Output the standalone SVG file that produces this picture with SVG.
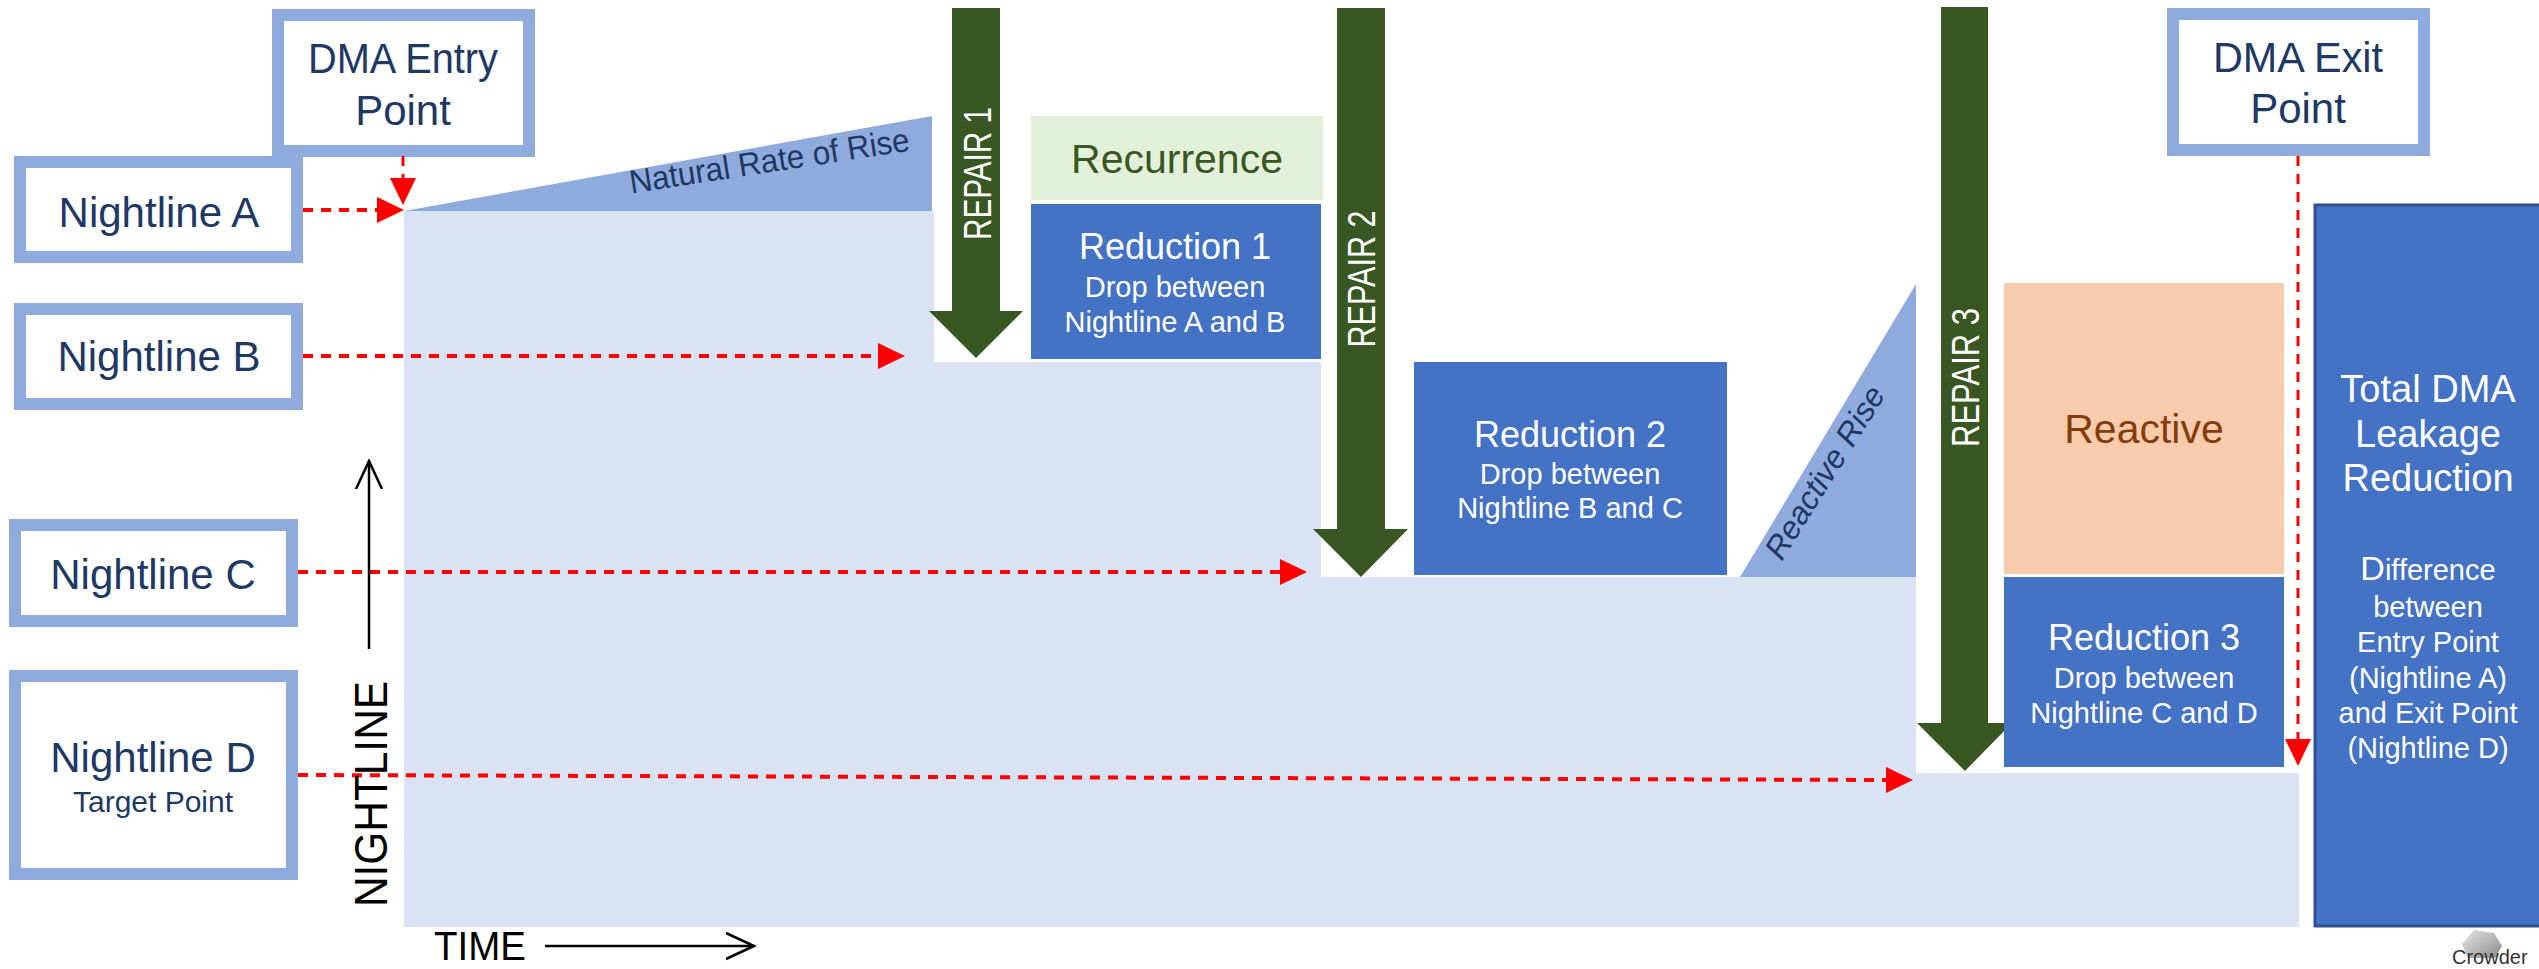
<svg xmlns="http://www.w3.org/2000/svg" width="2539" height="969" viewBox="0 0 2539 969">
<style>
text{font-family:'Liberation Sans',Arial,sans-serif}
.box{fill:#fff;stroke:#8FAADC;stroke-width:12}
.nav{fill:#203864;text-anchor:middle}
.lbl{font-size:42px}
.w{fill:#fff;text-anchor:middle}
.big{font-size:36px}
.sm{font-size:29px}
.rep{fill:#fff;font-size:38px;text-anchor:middle}
.red{stroke:#FF0000;stroke-width:4;stroke-dasharray:10 8;fill:none}
.redv{stroke:#FF0000;stroke-width:3;stroke-dasharray:10 8;fill:none}
.green{fill:#385723}
.blue{fill:#4472C4}
.tri{fill:#8FAADC}
.ax{stroke:#000;stroke-width:2.5;fill:none}
</style>
<defs>
<marker id="rh" viewBox="0 0 27 26" refX="0" refY="13" markerWidth="27" markerHeight="26" markerUnits="userSpaceOnUse" orient="auto"><path d="M0,0 L27,13 L0,26 Z" fill="#FF0000"/></marker>
<marker id="oh" viewBox="0 0 30 30" refX="28" refY="15" markerWidth="30" markerHeight="30" markerUnits="userSpaceOnUse" orient="auto"><path d="M0,2 L28,15 L0,28" fill="none" stroke="#000" stroke-width="2.5"/></marker>
<linearGradient id="lg" x1="0" y1="0" x2="1" y2="1"><stop offset="0" stop-color="#e8e8e8"/><stop offset="1" stop-color="#8a8a8a"/></linearGradient>
</defs>

<g id="area">
<polygon points="404,211 934,211 934,362 1321,362 1321,577 1916,577 1916,773 2299,773 2299,927 404,927" fill="#DAE3F3"/>
</g>

<g id="natural-rise">
<polygon class="tri" points="404,211 932,116 932,211"/>
<text class="nav" font-size="33" transform="translate(771,172) rotate(-8.7)" textLength="283" lengthAdjust="spacingAndGlyphs">Natural Rate of Rise</text>
</g>

<g id="reactive-rise">
<polygon class="tri" points="1740,577 1916,284 1916,577"/>
<text class="nav" font-size="32" font-style="italic" transform="translate(1834,478) rotate(-58)">Reactive Rise</text>
</g>

<g id="entry">
<rect class="box" x="278" y="15" width="251" height="136"/>
<text class="nav lbl" x="403" y="73" textLength="190" lengthAdjust="spacingAndGlyphs">DMA Entry</text>
<text class="nav lbl" x="403" y="125">Point</text>
</g>

<g id="exit">
<rect class="box" x="2173" y="14" width="251" height="136"/>
<text class="nav lbl" x="2298" y="72" textLength="170" lengthAdjust="spacingAndGlyphs">DMA Exit</text>
<text class="nav lbl" x="2298" y="123">Point</text>
</g>

<g id="nightline-a">
<rect class="box" x="20" y="162" width="277" height="95"/>
<text class="nav lbl" x="159" y="227">Nightline A</text>
</g>
<g id="nightline-b">
<rect class="box" x="20" y="309" width="277" height="95"/>
<text class="nav lbl" x="159" y="371">Nightline B</text>
</g>
<g id="nightline-c">
<rect class="box" x="15" y="525" width="277" height="96"/>
<text class="nav lbl" x="153" y="589">Nightline C</text>
</g>
<g id="nightline-d">
<rect class="box" x="15" y="676" width="277" height="198"/>
<text class="nav lbl" x="153" y="772">Nightline D</text>
<text class="nav" font-size="30" x="153" y="812">Target Point</text>
</g>

<g id="repair-1">
<path class="green" d="M952,8 H1000 V311 H1023 L976,358 L929,311 H952 Z"/>
<text class="rep" transform="translate(991,173.5) rotate(-90)" textLength="133" lengthAdjust="spacingAndGlyphs">REPAIR 1</text>
</g>
<g id="repair-2">
<path class="green" d="M1337,8 H1385 V529 H1408 L1361,577 L1313,529 H1337 Z"/>
<text class="rep" transform="translate(1375,279) rotate(-90)" textLength="137" lengthAdjust="spacingAndGlyphs">REPAIR 2</text>
</g>
<g id="repair-3">
<path class="green" d="M1941,7 H1988 V723 H2012 L1965,771 L1917,723 H1941 Z"/>
<text class="rep" transform="translate(1979,377.5) rotate(-90)" textLength="139" lengthAdjust="spacingAndGlyphs">REPAIR 3</text>
</g>

<g id="recurrence">
<rect x="1031" y="116" width="292" height="84" fill="#E2F0D9"/>
<text x="1177" y="173" font-size="41" fill="#385723" text-anchor="middle">Recurrence</text>
</g>
<g id="reduction-1">
<rect class="blue" x="1031" y="204" width="290" height="155"/>
<text class="w big" x="1175" y="259">Reduction 1</text>
<text class="w sm" x="1175" y="297">Drop between</text>
<text class="w sm" x="1175" y="332">Nightline A and B</text>
</g>
<g id="reduction-2">
<rect class="blue" x="1414" y="362" width="313" height="213"/>
<text class="w big" x="1570" y="447">Reduction 2</text>
<text class="w sm" x="1570" y="484">Drop between</text>
<text class="w sm" x="1570" y="518">Nightline B and C</text>
</g>
<g id="reactive">
<rect x="2004" y="283" width="280" height="291" fill="#F8CBAD"/>
<text x="2144" y="443" font-size="41" fill="#843C0C" text-anchor="middle">Reactive</text>
</g>
<g id="reduction-3">
<rect class="blue" x="2004" y="577" width="280" height="190"/>
<text class="w big" x="2144" y="650">Reduction 3</text>
<text class="w sm" x="2144" y="688">Drop between</text>
<text class="w sm" x="2144" y="723">Nightline C and D</text>
</g>
<g id="total">
<rect class="blue" x="2315" y="205" width="240" height="721" stroke="#2F528F" stroke-width="3"/>
<text class="w" font-size="38" x="2428" y="402">Total DMA</text>
<text class="w" font-size="38" x="2428" y="447">Leakage</text>
<text class="w" font-size="38" x="2428" y="491">Reduction</text>
<text class="w sm" x="2428" y="580"><tspan font-size="34">D</tspan>ifference</text>
<text class="w sm" x="2428" y="617">between</text>
<text class="w sm" x="2428" y="652">Entry Point</text>
<text class="w sm" x="2428" y="688">(Nightline A)</text>
<text class="w sm" x="2428" y="723">and Exit Point</text>
<text class="w sm" x="2428" y="758">(Nightline D)</text>
</g>

<g id="connectors">
<line class="redv" x1="403" y1="156" x2="403" y2="178" marker-end="url(#rh)"/>
<line class="red" x1="303" y1="210" x2="377" y2="210" marker-end="url(#rh)"/>
<line class="red" x1="303" y1="356" x2="878" y2="356" marker-end="url(#rh)"/>
<line class="red" x1="298" y1="572" x2="1280" y2="572" marker-end="url(#rh)"/>
<line class="red" x1="298" y1="775" x2="1886" y2="780" marker-end="url(#rh)"/>
<line class="redv" x1="2298" y1="156" x2="2298" y2="739" marker-end="url(#rh)"/>
</g>

<g id="axes">
<line class="ax" x1="369" y1="649" x2="369" y2="461" marker-end="url(#oh)"/>
<text font-size="46" fill="#000" text-anchor="middle" transform="translate(387,794) rotate(-90)" textLength="226" lengthAdjust="spacingAndGlyphs">NIGHTLINE</text>
<text font-size="40" fill="#000" x="434" y="960" textLength="92" lengthAdjust="spacingAndGlyphs">TIME</text>
<line class="ax" x1="545" y1="946" x2="754" y2="946" marker-end="url(#oh)"/>
</g>

<g id="logo">
<polygon points="2474,930 2494,933 2502,946 2495,958 2468,958 2462,944" fill="url(#lg)"/>
<text x="2452" y="964" font-size="20" fill="#333">Crowder</text>
</g>
</svg>
